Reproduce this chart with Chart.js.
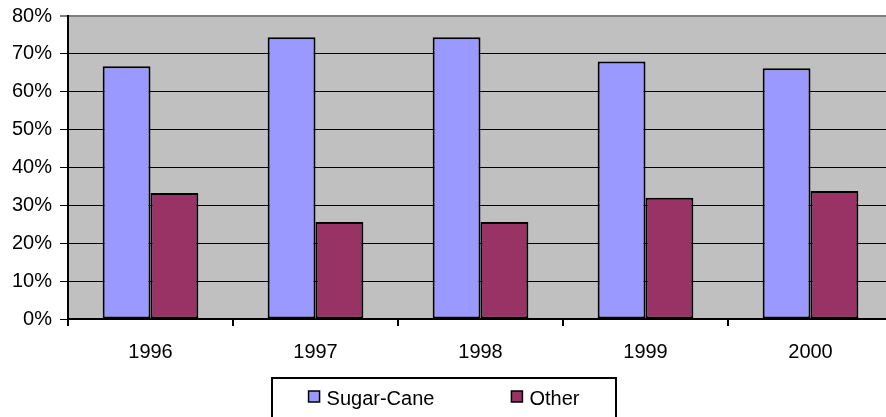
<!DOCTYPE html>
<html>
<head>
<meta charset="utf-8">
<script src="https://cdn.jsdelivr.net/npm/chart.js@4/dist/chart.umd.min.js"></script>
<style>
  html, body { margin: 0; padding: 0; background: #fff; }
  #wrap { width: 886px; height: 417px; overflow: hidden; position: relative; }
  #wrap canvas { position: absolute; left: 0; top: 0; }
</style>
</head>
<body>
<div id="wrap"><canvas id="shareChart" width="900" height="417"></canvas></div>
<script>
// Data
const years = ['1996', '1997', '1998', '1999', '2000'];
const sugarCane = [66.7, 74.4, 74.4, 68.0, 66.2];
const other = [33.3, 25.6, 25.6, 32.0, 33.8];
const yTicks = [0, 10, 20, 30, 40, 50, 60, 70, 80];

const FONT = 'Arial, "Liberation Sans", sans-serif';

// grey plot background
const plotBackground = {
    id: 'plotBackground',
    beforeDraw(chart) {
        const { ctx, chartArea } = chart;
        ctx.save();
        ctx.fillStyle = '#C0C0C0';
        ctx.fillRect(chartArea.left, chartArea.top, chartArea.right - chartArea.left, chartArea.bottom - chartArea.top);
        ctx.restore();
    }
};

// boxed legend below the axis, like the old spreadsheet look
const boxedLegend = {
    id: 'boxedLegend',
    afterDraw(chart) {
        const ctx = chart.ctx;
        const boxLeft = 272, boxRight = 616, boxTop = 378;
        const square = 11, textGap = 7, itemGap = 77;
        ctx.save();
        ctx.font = '20px ' + FONT;
        ctx.textBaseline = 'middle';
        ctx.textAlign = 'left';

        // frame
        ctx.strokeStyle = '#000';
        ctx.lineWidth = 2;
        ctx.strokeRect(boxLeft, boxTop, boxRight - boxLeft, 60);

        const sets = chart.data.datasets;
        let total = 0;
        sets.forEach((ds, i) => {
            total += square + textGap + ctx.measureText(ds.label).width;
            if (i < sets.length - 1) total += itemGap;
        });
        let x = (boxLeft + boxRight) / 2 - total / 2;
        const midY = 398;
        sets.forEach(ds => {
            ctx.fillStyle = ds.backgroundColor;
            ctx.fillRect(x, midY - 7, square, square);
            ctx.lineWidth = 1.5;
            ctx.strokeStyle = '#000';
            ctx.strokeRect(x, midY - 7, square, square);
            ctx.fillStyle = '#000';
            ctx.fillText(ds.label, x + square + textGap, midY + 1);
            x += square + textGap + ctx.measureText(ds.label).width + itemGap;
        });
        ctx.restore();
    }
};

const ctx = document.getElementById('shareChart').getContext('2d');
new Chart(ctx, {
    type: 'bar',
    data: {
        labels: years,
        datasets: [{
            label: 'Sugar-Cane',
            data: sugarCane,
            backgroundColor: '#9999FF',
            borderColor: '#000',
            borderWidth: 2,
            borderSkipped: false
        }, {
            label: 'Other',
            data: other,
            backgroundColor: '#993366',
            borderColor: '#000',
            borderWidth: 2,
            borderSkipped: false
        }]
    },
    options: {
        responsive: false,
        animation: false,
        layout: {
            padding: { top: 16, left: 0, right: 7, bottom: 0 }
        },
        datasets: {
            bar: {
                categoryPercentage: 0.58,
                barPercentage: 1
            }
        },
        plugins: {
            legend: { display: false },
            tooltip: { enabled: false }
        },
        scales: {
            x: {
                offset: true,
                grid: {
                    offset: true,
                    drawOnChartArea: false,
                    drawTicks: true,
                    tickLength: 7,
                    color: '#000',
                    lineWidth: 2
                },
                border: { color: '#000', width: 2 },
                ticks: {
                    color: '#000',
                    padding: 14,
                    font: { family: FONT, size: 20 }
                },
                afterFit(scale) {
                    scale.height = 98;
                    scale.paddingLeft = 0;
                    scale.paddingRight = 0;
                }
            },
            y: {
                min: yTicks[0],
                max: yTicks[yTicks.length - 1],
                afterBuildTicks(scale) {
                    scale.ticks = yTicks.map(v => ({ value: v }));
                },
                grid: {
                    color: c => (c.tick && c.tick.value === 80 ? '#808080' : '#000'),
                    lineWidth: c => (c.tick && c.tick.value === 80 ? 2 : 1),
                    tickLength: 8
                },
                border: { color: '#000', width: 2 },
                ticks: {
                    color: '#000',
                    padding: 8,
                    font: { family: FONT, size: 20 },
                    callback: v => v + '%'
                },
                afterFit(scale) {
                    scale.width = 68;
                    scale.paddingTop = 0;
                    scale.paddingBottom = 0;
                }
            }
        }
    },
    plugins: [plotBackground, boxedLegend]
});
</script>
</body>
</html>
